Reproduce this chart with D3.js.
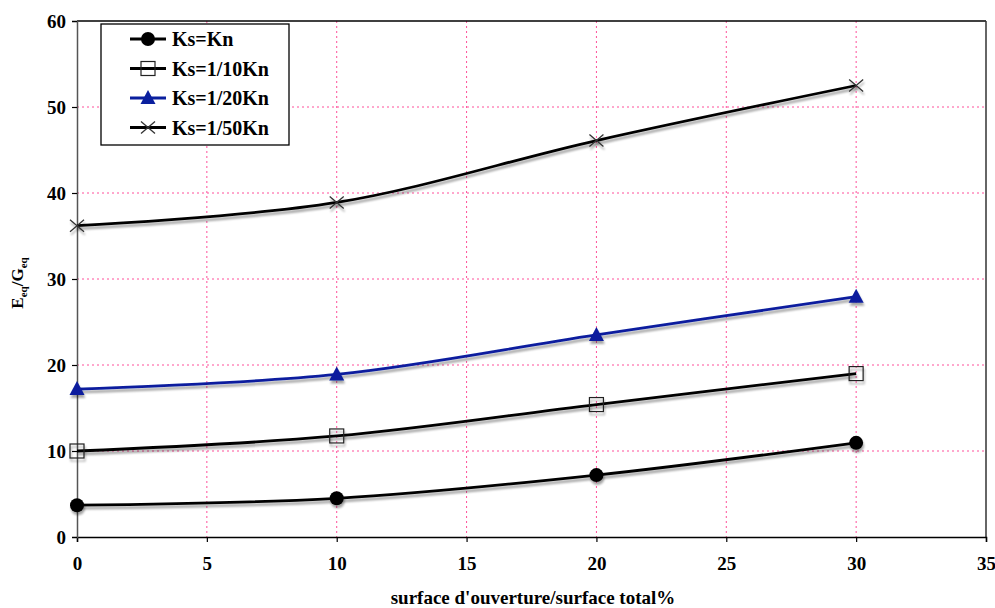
<!DOCTYPE html>
<html><head><meta charset="utf-8">
<script src="https://cdn.jsdelivr.net/npm/d3@7"></script>
<style>body{margin:0;background:#fff}svg{display:block}text{font-family:"Liberation Serif","Times New Roman",serif;font-weight:bold}</style>
</head><body><svg id="c" width="995" height="608"></svg>
<script>
const xValues = [0, 10, 20, 30];
const xTicks = [0, 5, 10, 15, 20, 25, 30, 35];
const yTicks = [0, 10, 20, 30, 40, 50, 60];
const seriesNames = ["Ks=Kn", "Ks=1/10Kn", "Ks=1/20Kn", "Ks=1/50Kn"];
const ksKn = [3.7, 4.5, 7.2, 10.95];
const ks10 = [10.0, 11.75, 15.4, 19.0];
const ks20 = [17.2, 18.9, 23.5, 27.95];
const ks50 = [36.2, 38.9, 46.1, 52.5];
const xTitle = "surface d'ouverture/surface total%";

const series = [
  {name: seriesNames[0], values: ksKn, color: "#000", marker: "circle"},
  {name: seriesNames[1], values: ks10, color: "#000", marker: "square"},
  {name: seriesNames[2], values: ks20, color: "#0a1f9e", marker: "triangle"},
  {name: seriesNames[3], values: ks50, color: "#000", marker: "cross"}
];

const svg = d3.select("#c");
const L = 77, R = 986, T = 21, B = 537;
const x = d3.scaleLinear().domain([0, 35]).range([L, R]);
const y = d3.scaleLinear().domain([0, 60]).range([B, T]);

const defs = svg.append("defs");
const f = defs.append("filter").attr("id", "sh").attr("x", "-10%").attr("y", "-10%").attr("width", "120%").attr("height", "130%");
f.append("feGaussianBlur").attr("in", "SourceAlpha").attr("stdDeviation", 1.2).attr("result", "b");
f.append("feOffset").attr("in", "b").attr("dx", 1).attr("dy", 2.5).attr("result", "o");
f.append("feComponentTransfer").attr("in", "o").attr("result", "o2").append("feFuncA").attr("type", "linear").attr("slope", 0.35);
const m = f.append("feMerge");
m.append("feMergeNode").attr("in", "o2");
m.append("feMergeNode").attr("in", "SourceGraphic");

// grid
const grid = svg.append("g").attr("stroke", "#ff4f9a").attr("stroke-width", 1).attr("stroke-dasharray", "2,3");
grid.selectAll("line.v").data(xTicks.filter(d => d > 0 && d < 35)).join("line")
  .attr("x1", d => x(d)).attr("x2", d => x(d)).attr("y1", T).attr("y2", B);
grid.selectAll("line.h").data(yTicks.filter(d => d > 0 && d < 60)).join("line")
  .attr("x1", L).attr("x2", R).attr("y1", d => y(d)).attr("y2", d => y(d));

// frame
svg.append("line").attr("x1", L).attr("x2", R).attr("y1", T).attr("y2", T).attr("stroke", "#000").attr("stroke-width", 1.5);
svg.append("line").attr("x1", R).attr("x2", R).attr("y1", T).attr("y2", B).attr("stroke", "#333").attr("stroke-width", 1.5);

// axes
const xAxis = svg.append("g").attr("transform", `translate(0,${B})`)
  .call(d3.axisBottom(x).tickValues(xTicks).tickSize(5).tickPadding(8).tickFormat(d3.format("d")));
const yAxis = svg.append("g").attr("transform", `translate(${L},0)`)
  .call(d3.axisLeft(y).tickValues(yTicks).tickSize(5).tickPadding(6).tickFormat(d3.format("d")));
[xAxis, yAxis].forEach(a => {
  a.select(".domain").attr("stroke", "#000").attr("stroke-width", 1.5);
  a.selectAll(".tick line").attr("stroke", "#000").attr("stroke-width", 1.2);
  a.selectAll("text").attr("font-family", "Liberation Serif, serif").attr("font-weight", "bold").attr("font-size", 19).attr("fill", "#000");
});
yAxis.select(".domain").attr("stroke", "#555");
xAxis.selectAll("text").attr("dy", "1.05em");

// lines
const line = d3.line().x((d, i) => x(xValues[i])).y(d => y(d)).curve(d3.curveCatmullRom.alpha(0.5));
const gLines = svg.append("g").attr("filter", "url(#sh)");
series.forEach(s => {
  gLines.append("path").attr("d", line(s.values)).attr("fill", "none").attr("stroke", s.color).attr("stroke-width", 2.8);
});

function drawMarker(g, type, cx, cy, color) {
  if (type === "circle") g.append("circle").attr("cx", cx).attr("cy", cy).attr("r", 7).attr("fill", "#000");
  else if (type === "square") g.append("rect").attr("x", cx - 7).attr("y", cy - 7).attr("width", 14).attr("height", 14).attr("fill", "none").attr("stroke", "#222").attr("stroke-width", 1.2);
  else if (type === "triangle") g.append("path").attr("d", `M${cx},${cy - 8}L${cx + 7.5},${cy + 6}L${cx - 7.5},${cy + 6}Z`).attr("fill", color);
  else if (type === "cross") g.append("path").attr("d", `M${cx - 7},${cy - 6}L${cx + 7},${cy + 6}M${cx - 7},${cy + 6}L${cx + 7},${cy - 6}`).attr("stroke", "#333").attr("stroke-width", 1.3);
}
const gMarks = svg.append("g").attr("filter", "url(#sh)");
series.forEach(s => {
  s.values.forEach((v, i) => drawMarker(gMarks, s.marker, x(xValues[i]), y(v), s.color));
});

// legend
const lg = svg.append("g");
lg.append("rect").attr("x", 101).attr("y", 24).attr("width", 188).attr("height", 121).attr("fill", "#fff").attr("stroke", "#000").attr("stroke-width", 1.3);
series.forEach((s, i) => {
  const cy = 39 + i * 29.5;
  lg.append("line").attr("x1", 130).attr("x2", 166).attr("y1", cy).attr("y2", cy).attr("stroke", s.color).attr("stroke-width", 2.8);
  drawMarker(lg, s.marker, 148, cy, s.color);
  lg.append("text").attr("x", 172).attr("y", cy).attr("dy", "0.35em").attr("font-size", 20).attr("fill", "#000").text(s.name);
});

// axis titles
svg.append("text").attr("x", 533).attr("y", 604).attr("text-anchor", "middle").attr("font-size", 19).attr("fill", "#000").text(xTitle);
const yt = svg.append("text").attr("transform", "translate(23,283) rotate(-90)").attr("text-anchor", "middle").attr("font-size", 17).attr("fill", "#000");
yt.append("tspan").text("E");
yt.append("tspan").attr("font-size", 11).attr("dy", 4).text("eq");
yt.append("tspan").attr("dy", -4).text("/G");
yt.append("tspan").attr("font-size", 11).attr("dy", 4).text("eq");
</script></body></html>
